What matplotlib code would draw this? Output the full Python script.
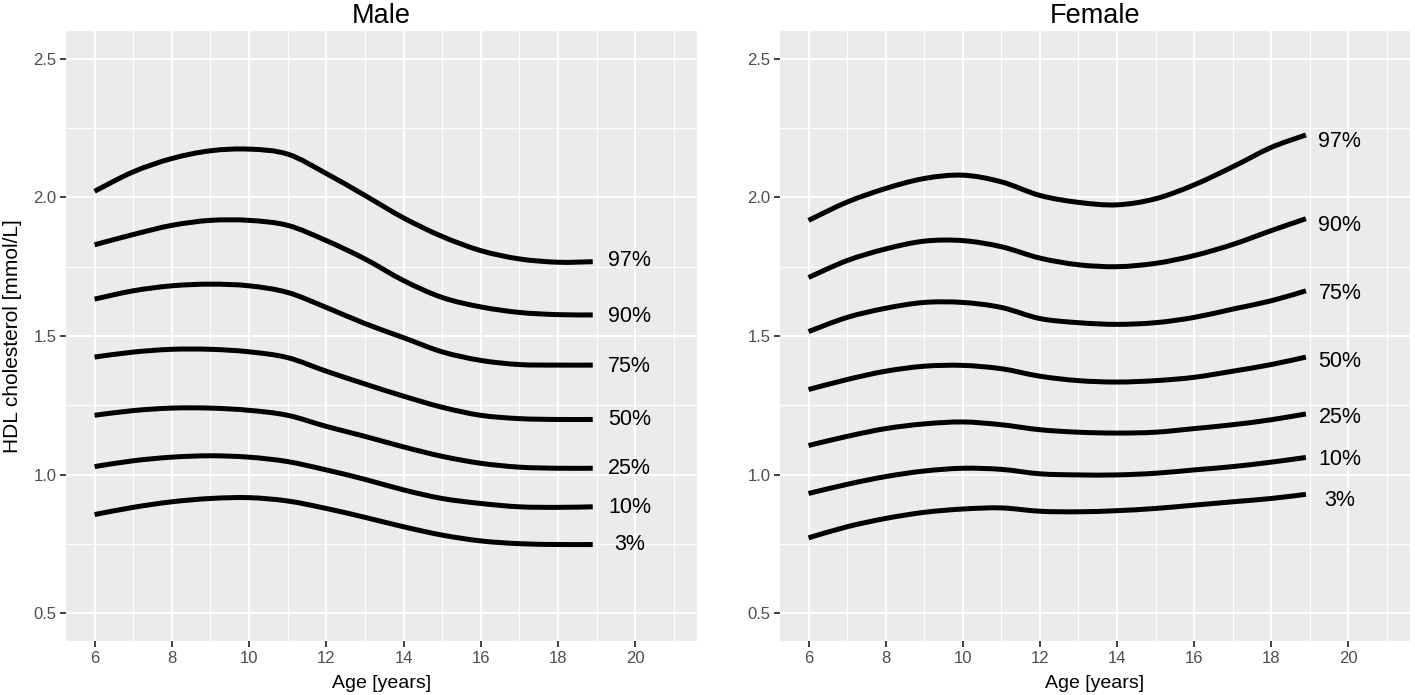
import matplotlib
matplotlib.use("Agg")
import matplotlib.pyplot as plt
from matplotlib.ticker import MultipleLocator, FormatStrFormatter
from matplotlib.path import Path
from matplotlib.patches import PathPatch

plt.rcParams['font.family'] = ['Liberation Sans', 'DejaVu Sans']

ages = [6, 7, 8, 9, 10, 11, 12, 13, 14, 15, 16, 17, 18, 18.9]
centiles = ['97%', '90%', '75%', '50%', '25%', '10%', '3%']

male = [
    [2.022, 2.092, 2.140, 2.168, 2.174, 2.156, 2.086, 2.007, 1.926, 1.859, 1.808, 1.778, 1.766, 1.768],
    [1.829, 1.866, 1.899, 1.917, 1.917, 1.899, 1.844, 1.778, 1.700, 1.639, 1.605, 1.585, 1.577, 1.576],
    [1.633, 1.663, 1.681, 1.687, 1.681, 1.657, 1.603, 1.545, 1.494, 1.443, 1.412, 1.397, 1.395, 1.395],
    [1.424, 1.442, 1.452, 1.452, 1.443, 1.422, 1.373, 1.327, 1.283, 1.243, 1.214, 1.202, 1.199, 1.199],
    [1.214, 1.231, 1.240, 1.240, 1.232, 1.214, 1.174, 1.138, 1.100, 1.066, 1.041, 1.027, 1.023, 1.023],
    [1.029, 1.050, 1.063, 1.068, 1.063, 1.047, 1.017, 0.983, 0.945, 0.914, 0.896, 0.884, 0.882, 0.884],
    [0.856, 0.882, 0.902, 0.914, 0.917, 0.905, 0.878, 0.846, 0.812, 0.782, 0.761, 0.751, 0.748, 0.748],
]
male_label_y = [1.772, 1.572, 1.391, 1.200, 1.021, 0.880, 0.748]

female = [
    [1.917, 1.983, 2.032, 2.068, 2.080, 2.056, 2.007, 1.982, 1.973, 1.995, 2.045, 2.110, 2.180, 2.225],
    [1.711, 1.772, 1.814, 1.842, 1.844, 1.822, 1.781, 1.757, 1.750, 1.762, 1.790, 1.830, 1.880, 1.923],
    [1.516, 1.567, 1.600, 1.621, 1.621, 1.603, 1.563, 1.548, 1.542, 1.548, 1.567, 1.597, 1.627, 1.663],
    [1.307, 1.343, 1.373, 1.391, 1.394, 1.382, 1.355, 1.339, 1.334, 1.339, 1.351, 1.373, 1.397, 1.424],
    [1.105, 1.138, 1.166, 1.183, 1.190, 1.180, 1.162, 1.153, 1.150, 1.153, 1.166, 1.180, 1.198, 1.219],
    [0.932, 0.965, 0.993, 1.013, 1.023, 1.019, 1.003, 0.999, 0.999, 1.005, 1.017, 1.029, 1.045, 1.062],
    [0.772, 0.812, 0.842, 0.864, 0.876, 0.880, 0.868, 0.866, 0.870, 0.878, 0.890, 0.902, 0.914, 0.929],
]
female_label_y = [2.201, 1.899, 1.653, 1.409, 1.207, 1.054, 0.908]

panels = [('Male', male, male_label_y, 19.85), ('Female', female, female_label_y, 19.78)]


def smooth_path(xs, ys):
    # curved (Catmull-Rom style) path through the points, drawn as cubic beziers
    verts = [(xs[0], ys[0])]
    codes = [Path.MOVETO]
    n = len(xs)
    for k in range(n - 1):
        x0, y0 = (xs[k - 1], ys[k - 1]) if k > 0 else (xs[k], ys[k])
        x1, y1 = xs[k], ys[k]
        x2, y2 = xs[k + 1], ys[k + 1]
        x3, y3 = (xs[k + 2], ys[k + 2]) if k + 2 < n else (x2, y2)
        c1 = (x1 + (x2 - x0) / 6, y1 + (y2 - y0) / 6)
        c2 = (x2 - (x3 - x1) / 6, y2 - (y3 - y1) / 6)
        verts += [c1, c2, (x2, y2)]
        codes += [Path.CURVE4] * 3
    return Path(verts, codes)


fig = plt.figure(figsize=(14.15, 6.95), dpi=100)
W, H = 1415, 695
rects = [[66 / W, 54 / H, 631 / W, 610 / H], [780 / W, 54 / H, 630 / W, 610 / H]]

for i, (title, curves, label_y, label_x) in enumerate(panels):
    ax = fig.add_axes(rects[i])
    ax.set_facecolor('#EBEBEB')
    for c in curves:
        ax.add_patch(PathPatch(smooth_path(ages, c), facecolor='none', edgecolor='black',
                               linewidth=3.6, capstyle='butt', zorder=3))
    for name, yy in zip(centiles, label_y):
        ax.text(label_x, yy, name, ha='center', va='center', fontsize=15.5, color='black', zorder=4)

    ax.set_xlim(5.26, 21.6)
    ax.set_ylim(0.4, 2.6)
    ax.xaxis.set_major_locator(MultipleLocator(2))
    ax.xaxis.set_minor_locator(MultipleLocator(1))
    ax.yaxis.set_major_locator(MultipleLocator(0.5))
    ax.yaxis.set_minor_locator(MultipleLocator(0.25))
    ax.yaxis.set_major_formatter(FormatStrFormatter('%.1f'))
    ax.grid(which='major', color='white', linewidth=1.5)
    ax.grid(which='minor', color='white', linewidth=0.8)
    ax.set_axisbelow(True)
    for s in ax.spines.values():
        s.set_visible(False)
    ax.tick_params(which='major', length=4, width=1.3, color='#333333',
                   labelsize=12, labelcolor='#4D4D4D', pad=3)
    ax.tick_params(which='minor', length=0)

    ax.set_title(title, fontsize=19.5, pad=6)
    ax.set_xlabel('Age [years]', fontsize=14, labelpad=7)
    if i == 0:
        ax.set_ylabel('HDL cholesterol [mmol/L]', fontsize=15, labelpad=8)

fig.savefig('out.png', dpi=100)
